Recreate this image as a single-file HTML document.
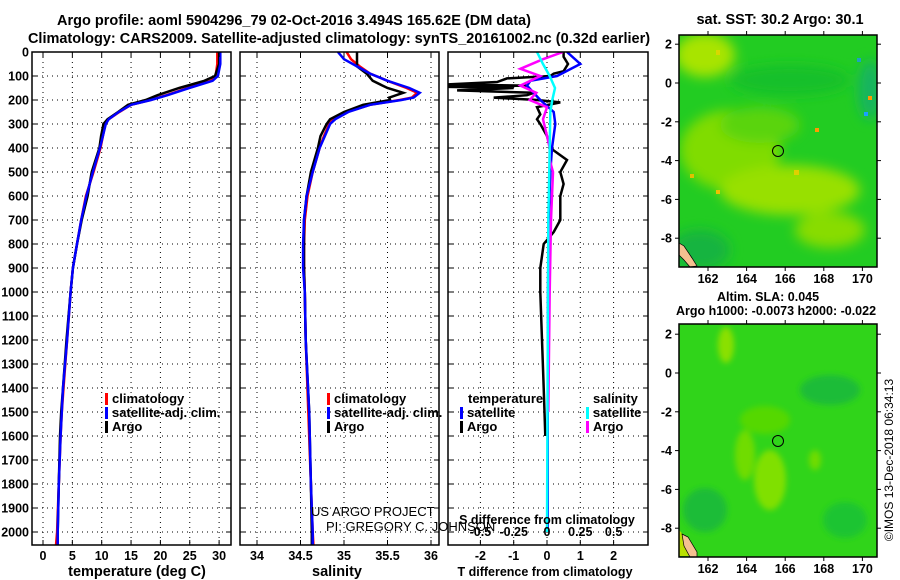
<!DOCTYPE html>
<html><head><meta charset="utf-8">
<style>
html,body{margin:0;padding:0;background:#fff;}
svg{display:block;font-family:"Liberation Sans",sans-serif;}
.t{font-weight:bold;font-size:13px;fill:#000;}
.tt{font-weight:bold;font-size:14.5px;fill:#000;}
.tk{font-weight:bold;font-size:12.5px;fill:#000;}
</style></head>
<body>
<svg id="c" width="900" height="580" viewBox="0 0 900 580">
<defs>
<filter id="bl" x="-30%" y="-30%" width="160%" height="160%"><feGaussianBlur stdDeviation="6"/></filter>
<filter id="bl2" x="-30%" y="-30%" width="160%" height="160%"><feGaussianBlur stdDeviation="3"/></filter>
<clipPath id="m1"><rect x="679" y="35" width="198" height="232"/></clipPath>
<clipPath id="m2"><rect x="679" y="324" width="198" height="233"/></clipPath>
<clipPath id="p1"><rect x="32" y="52" width="199" height="493"/></clipPath>
<clipPath id="p2"><rect x="240" y="52" width="199" height="493"/></clipPath>
<clipPath id="p3"><rect x="448" y="52" width="200" height="493"/></clipPath>
</defs>
<text class="tt" x="294" y="25" text-anchor="middle">Argo profile: aoml 5904296_79 02-Oct-2016 3.494S 165.62E (DM data)</text>
<text class="tt" x="339" y="43" text-anchor="middle">Climatology: CARS2009. Satellite-adjusted climatology: synTS_20161002.nc (0.32d earlier)</text>
<g id="grid"></g>
<g id="series"></g>
<g id="axes"></g>

<!-- maps -->
<text class="tt" x="780" y="24" text-anchor="middle">sat. SST: 30.2 Argo: 30.1</text>
<g clip-path="url(#m1)">
<rect x="679" y="35" width="198" height="232" fill="#22cc22"/>
<g filter="url(#bl)">
<ellipse cx="705" cy="55" rx="30" ry="22" fill="#a8e400"/>
<ellipse cx="730" cy="150" rx="50" ry="40" fill="#80dc00"/>
<ellipse cx="790" cy="190" rx="70" ry="25" fill="#98e000"/>
<ellipse cx="830" cy="230" rx="35" ry="18" fill="#88dc00"/>
<ellipse cx="760" cy="125" rx="40" ry="18" fill="#5ad410"/>
<ellipse cx="700" cy="250" rx="30" ry="20" fill="#14b440"/>
<ellipse cx="870" cy="90" rx="12" ry="30" fill="#14b460"/>
<ellipse cx="790" cy="80" rx="60" ry="15" fill="#18c02a"/>
</g>
<rect x="716" y="50" width="4" height="5" fill="#d8d800"/><rect x="815" y="128" width="4" height="4" fill="#ff9a00"/>
<rect x="868" y="96" width="4" height="4" fill="#ff9a00"/><rect x="864" y="112" width="4" height="4" fill="#1aa0ff"/>
<rect x="857" y="58" width="4" height="4" fill="#20a0c0"/><rect x="690" y="174" width="4" height="4" fill="#e0c000"/>
<rect x="794" y="170" width="5" height="5" fill="#e0d000"/><rect x="716" y="190" width="4" height="4" fill="#f0c000"/>
<polygon points="679,243 684,246 692,258 697,266 690,267 684,260 679,255" fill="#f5c090" stroke="#000" stroke-width="0.7"/>
</g>
<rect x="679" y="35" width="198" height="232" fill="none" stroke="#000" stroke-width="1.5"/>
<circle cx="778" cy="151" r="5.5" fill="none" stroke="#000"/>
<text class="t" x="768" y="301" text-anchor="middle" style="font-size:12.5px">Altim. SLA: 0.045</text>
<text class="t" x="776" y="315" text-anchor="middle" style="font-size:12.5px">Argo h1000: -0.0073 h2000: -0.022</text>
<g clip-path="url(#m2)">
<rect x="679" y="324" width="198" height="233" fill="#30d41a"/>
<g filter="url(#bl2)">
<ellipse cx="726" cy="345" rx="8" ry="18" fill="#8ae000"/>
<ellipse cx="770" cy="480" rx="16" ry="30" fill="#80e000"/>
<ellipse cx="745" cy="455" rx="10" ry="25" fill="#70dc00"/>
<ellipse cx="765" cy="420" rx="25" ry="14" fill="#55d800"/>
<ellipse cx="815" cy="460" rx="6" ry="10" fill="#70dc00"/>
<ellipse cx="830" cy="390" rx="30" ry="15" fill="#1cbc38"/>
<ellipse cx="705" cy="510" rx="22" ry="22" fill="#1cbc38"/>
<ellipse cx="845" cy="520" rx="22" ry="18" fill="#1cc430"/>
</g>
<polygon points="679,556 679,530 688,540 697,556" fill="#b8e000"/>
<polygon points="682,534 688,537 697,552 697,557 690,557 684,546" fill="#f5c090" stroke="#000" stroke-width="0.7"/>
</g>
<rect x="679" y="324" width="198" height="233" fill="none" stroke="#000" stroke-width="1.5"/>
<circle cx="778" cy="441" r="5.5" fill="none" stroke="#000"/>
<g id="mapaxes"></g>
<text x="893" y="460" font-size="12" text-anchor="middle" transform="rotate(-90 893 460)" font-family="Liberation Sans, sans-serif">©IMOS 13-Dec-2018 06:34:13</text>
<text x="311" y="516" font-size="13" font-family="Liberation Sans, sans-serif">US ARGO PROJECT</text>
<text x="326" y="531" font-size="13" font-family="Liberation Sans, sans-serif">PI: GREGORY C. JOHNSON</text>
</svg>
<script>
// ---- data ----
const depthTicks=[0,100,200,300,400,500,600,700,800,900,1000,1100,1200,1300,1400,1500,1600,1700,1800,1900,2000];
const tempTicks=[0,5,10,15,20,25,30];
const salTicks=[34,34.5,35,35.5,36];
const tdiffTicks=[-2,-1,0,1,2];
const sdiffTicks=[-0.5,-0.25,0,0.25,0.5];
const sdiffLabels=["-0.5","-0.25","0","0.25","0.5"];
const lonTicks=[162,164,166,168,170];
const latTicks=[2,0,-2,-4,-6,-8];

const tDepth=[0,50,100,120,150,180,200,220,250,280,300,350,400,500,600,700,800,900,1000,1200,1400,1500,1600,1800,2000,2060];
const tClim=[29.7,29.7,29.4,28.6,24.7,21,18.3,15,13,11.2,10.6,10.2,9.8,8.6,7.3,6.5,5.8,5.1,4.7,4.1,3.5,3.2,3.0,2.7,2.4,2.2];
const tSat=[30.2,30.2,29.8,28.9,24.9,21.2,18.4,15,12.9,11.2,10.7,10.2,9.7,8.5,7.4,6.5,5.8,5.1,4.7,4.1,3.4,3.2,3.0,2.7,2.5,2.5];
const tArgo=[30.0,30.0,29.3,27.5,23.2,19.5,17.5,14.5,12.8,11,10.3,9.9,9.6,8.3,7.6,6.6,5.8,5.1,4.7,4.0,3.4,3.1,2.9,2.7,2.5,2.5];

const sDepth=[0,30,60,90,120,150,170,190,200,220,250,280,300,350,400,500,600,700,800,900,1000,1200,1500,1800,2000,2060];
const sClim=[35.03,35.08,35.18,35.3,35.5,35.72,35.84,35.78,35.64,35.3,35.03,34.88,34.83,34.77,34.72,34.64,34.58,34.55,34.54,34.54,34.55,34.56,34.59,34.62,34.64,34.65];
const sSat=[34.93,35.0,35.15,35.3,35.5,35.75,35.87,35.8,35.66,35.3,35.05,34.9,34.84,34.78,34.72,34.64,34.57,34.54,34.53,34.53,34.55,34.56,34.6,34.62,34.64,34.64];
const sArgo=[35.15,35.15,35.15,35.26,35.33,35.5,35.68,35.52,35.53,35.22,35.0,34.84,34.8,34.73,34.7,34.62,34.57,34.54,34.54,34.54,34.55,34.56,34.6,34.62,34.63,34.63];

const dDepth=[0,20,50,80,90,100,110,125,135,140,145,150,160,170,180,190,200,210,230,260,280,300,350,400,450,500,550,600,700,750,800,900,1000,1200,1400,1600];
const dTArgo=[0.5,0.5,0.63,0.5,0.2,0.1,-1.2,-1.5,-3,-0.6,-3,-1.0,-2.7,-0.4,-0.6,-1.6,-0.3,0.4,-0.3,-0.2,-0.3,-0.2,0.0,0.1,0.6,0.4,0.5,0.4,0.4,0.2,-0.1,-0.2,-0.2,-0.15,-0.1,-0.05];
const dTDepth=[0,50,100,120,140,200,250,300,400,500,700,1000,1500,2000];
const dTSat=[0.6,1.0,0.3,-0.5,-0.6,-0.2,0.2,0.25,0.15,0.1,0.05,0.03,0.02,0.02];
const dSDepth=[0,30,70,100,140,170,200,230,280,350,400,450,500,700,1000,1500];
const dSArgo=[0.12,-0.03,-0.2,-0.05,-0.2,-0.08,-0.13,0.0,-0.03,0.0,0.02,0.02,0.045,0.03,0.02,0.01];
const dSSatDepth=[0,50,100,150,200,250,400,700,2000];
const dSSat=[-0.075,-0.03,0.02,0.06,0.04,0.025,0.02,0.01,0.0];

// ---- axes ----
const Y0=52,Y1=545;
const yD=d=>Y0+0.24*d;
const xT=v=>43+5.87*v;
const xS=v=>257+87*(v-34);
const xTD=v=>547+33.3*v;
const xSD=v=>547+133.2*v;
const mx=l=>708+19.3*(l-162);
const my1=l=>83-19.4*l;
const my2=l=>373-19.4*l;

const NS='http://www.w3.org/2000/svg';
function mk(tag,attrs,parent){const e=document.createElementNS(NS,tag);for(const k in attrs)e.setAttribute(k,attrs[k]);parent.appendChild(e);return e;}
const G=document.getElementById('grid'),S=document.getElementById('series'),A=document.getElementById('axes'),MA=document.getElementById('mapaxes');
const panels=[{x0:32,x1:231,xs:tempTicks,xf:xT,lab:tempTicks.map(String),name:'temperature'},
{x0:240,x1:439,xs:salTicks,xf:xS,lab:salTicks.map(String),name:'salinity'},
{x0:448,x1:648,xs:tdiffTicks,xf:xTD,lab:tdiffTicks.map(String),name:'difference'}];
panels.forEach(p=>{
  depthTicks.forEach(d=>{const y=yD(d);
    const l=mk('line',{x1:p.x0,x2:p.x1,y1:y,y2:y,stroke:'#000','stroke-width':1,'stroke-dasharray':'1,4'},G);
    
    
    mk('line',{x1:p.x0,x2:p.x0+5,y1:y,y2:y,stroke:'#000'},A);
    mk('line',{x1:p.x1-5,x2:p.x1,y1:y,y2:y,stroke:'#000'},A);
  });
  p.xs.forEach((v,i)=>{const x=p.xf(v);
    const l=mk('line',{x1:x,x2:x,y1:Y0,y2:Y1,stroke:'#000','stroke-width':1,'stroke-dasharray':'1,4'},G);
    
    
    mk('line',{x1:x,x2:x,y1:Y1-5,y2:Y1,stroke:'#000'},A);
    mk('line',{x1:x,x2:x,y1:Y0,y2:Y0+5,stroke:'#000'},A);
    const t=mk('text',{x:x,y:560,'text-anchor':'middle',class:'tk'},A);t.textContent=p.lab[i];
    
    
  });
  const r=mk('rect',{x:p.x0,y:Y0,width:p.x1-p.x0,height:Y1-Y0,fill:'none',stroke:'#000','stroke-width':1.5},A);
  
  
});
depthTicks.forEach(d=>{const t=mk('text',{x:29,y:yD(d)+4.5,'text-anchor':'end',class:'tk'},A);t.textContent=d;
  
  });
sdiffTicks.forEach((v,i)=>{const t=mk('text',{x:xSD(v),y:536,'text-anchor':'middle',class:'tk'},A);t.textContent=sdiffLabels[i];
  
  });
[['temperature (deg C)',137,576,'x-axis-title-temperature','14.5px'],['salinity',337,576,'x-axis-title-salinity','14.5px'],['T difference from climatology',545,576,'x-axis-title-tdiff','12.5px'],['S difference from climatology',547,524,'x-axis-title-sdiff','12.5px']].forEach(a=>{
  const t=mk('text',{x:a[1],y:a[2],'text-anchor':'middle',class:'tt',style:'font-size:'+a[4]},A);t.textContent=a[0];
  
  
});
function line(xs,ds,xf,col,clip,name,w){
  const pts=xs.map((v,i)=>xf(v).toFixed(1)+','+yD(ds[i]).toFixed(1)).join(' ');
  const e=mk('polyline',{points:pts,fill:'none',stroke:col,'stroke-width':w||2.5,'clip-path':'url(#'+clip+')'},S);
  
  
}
line(tClim,tDepth,xT,'#f00','p1','temp-climatology-line');
line(tArgo,tDepth,xT,'#000','p1','temp-argo-line');
line(tSat,tDepth,xT,'#00f','p1','temp-satellite-line');
line(sClim,sDepth,xS,'#f00','p2','sal-climatology-line');
line(sArgo,sDepth,xS,'#000','p2','sal-argo-line');
line(sSat,sDepth,xS,'#00f','p2','sal-satellite-line');
line(dTArgo,dDepth,xTD,'#000','p3','tdiff-argo-line');
line(dTSat,dTDepth,xTD,'#00f','p3','tdiff-satellite-line');
line(dSArgo,dSDepth,xSD,'#f0f','p3','sdiff-argo-line');
line(dSSat,dSSatDepth,xSD,'#0ff','p3','sdiff-satellite-line');

// legends
function leg(x,y,col,txt,name){
  mk('rect',{x:x,y:y-10,width:3,height:12,fill:col},A);
  const t=mk('text',{x:x+7,y:y,class:'t'},A);t.textContent=txt;
  
  
}
leg(105,403,'#f00','climatology','legend-climatology');
leg(105,417,'#00f','satellite-adj. clim.','legend-satellite-adj');
leg(105,431,'#000','Argo','legend-argo');
leg(327,403,'#f00','climatology','legend-sal-climatology');
leg(327,417,'#00f','satellite-adj. clim.','legend-sal-satellite-adj');
leg(327,431,'#000','Argo','legend-sal-argo');
{const t=mk('text',{x:468,y:403,class:'t'},A);t.textContent='temperature';
 
 }
{const t=mk('text',{x:593,y:403,class:'t'},A);t.textContent='salinity';
 
 }
leg(460,417,'#00f','satellite','legend-tdiff-satellite');
leg(460,431,'#000','Argo','legend-tdiff-argo');
leg(586,417,'#0ff','satellite','legend-sdiff-satellite');
leg(586,431,'#f0f','Argo','legend-sdiff-argo');

// map axes
[[my1,35,267,'sst'],[my2,324,557,'sla']].forEach(m=>{
  lonTicks.forEach(l=>{const x=mx(l);
    mk('line',{x1:x,x2:x,y1:m[1]-4,y2:m[1],stroke:'#000'},MA);
    mk('line',{x1:x,x2:x,y1:m[2],y2:m[2]+4,stroke:'#000'},MA);
    const t=mk('text',{x:x,y:m[2]+16,'text-anchor':'middle',class:'tk'},MA);t.textContent=l;
    
    
  });
  latTicks.forEach(l=>{const y=m[0](l);
    mk('line',{x1:675,x2:679,y1:y,y2:y,stroke:'#000'},MA);
    mk('line',{x1:877,x2:881,y1:y,y2:y,stroke:'#000'},MA);
    const t=mk('text',{x:672,y:y+4.5,'text-anchor':'end',class:'tk'},MA);t.textContent=l;
    
    
  });
});
</script>
</body></html>
